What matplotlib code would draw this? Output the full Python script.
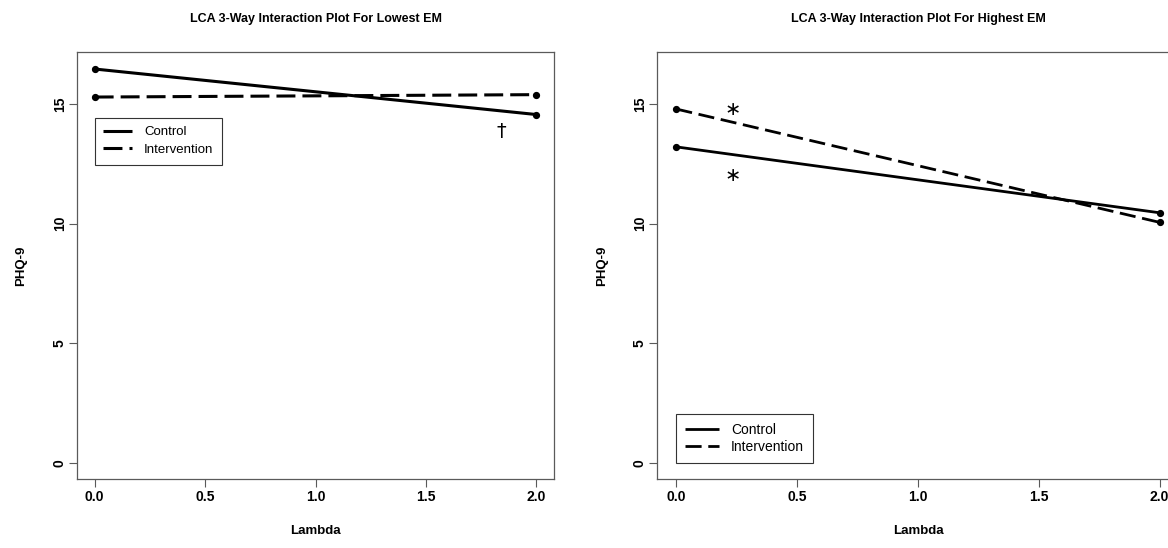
import matplotlib
matplotlib.use("Agg")
import matplotlib.pyplot as plt

plt.rcParams['font.family'] = ['Liberation Sans', 'DejaVu Sans']

# Data
lam = [0.0, 2.0]
low_control = [16.45, 14.55]
low_interv = [15.28, 15.38]
high_control = [13.2, 10.45]
high_interv = [14.78, 10.05]

xticks = [0.0, 0.5, 1.0, 1.5, 2.0]
xtick_labels = ["0.0", "0.5", "1.0", "1.5", "2.0"]
yticks = [0, 5, 10, 15]
ytick_labels = ["0", "5", "10", "15"]

titles = ["LCA 3-Way Interaction Plot For Lowest EM",
          "LCA 3-Way Interaction Plot For Highest EM"]
group_names = ["Control", "Intervention"]

# significance marks: (x, y, symbol)
low_marks = [(1.84, 13.85, "\u2020")]
high_marks = [(0.235, 14.75, "\u2217"), (0.235, 12.0, "\u2217")]

W, H = 1168, 548
AX_COLOR = "#5a5a5a"


def r_range(lo, hi):
    """R style 4% axis expansion"""
    pad = 0.04 * (hi - lo)
    return lo - pad, hi + pad


def style_axes(ax, title, ylabel_x):
    ax.set_xlim(*r_range(0, 2))
    ax.set_ylim(*r_range(0, 16.5))
    ax.set_xticks(xticks)
    ax.set_xticklabels(xtick_labels, fontweight='bold', fontsize=10)
    ax.set_yticks(yticks)
    ax.set_yticklabels(ytick_labels, fontweight='bold', fontsize=10,
                       rotation=90, va='center')
    ax.tick_params(axis='both', direction='out', length=5.8, width=0.8,
                   color=AX_COLOR)
    ax.tick_params(axis='x', pad=2)
    ax.tick_params(axis='y', pad=1.5)
    for sp in ax.spines.values():
        sp.set_color(AX_COLOR)
        sp.set_linewidth(0.9)
    ax.text(0.5, 1.0763, title, transform=ax.transAxes, ha='center',
            va='center', fontsize=9, fontweight='bold')
    ax.set_xlabel("Lambda", fontsize=9.5, fontweight='bold', va='center')
    ax.xaxis.set_label_coords(0.5, -0.1216)
    ax.set_ylabel("PHQ-9", fontsize=9.5, fontweight='bold', va='center')
    ax.yaxis.set_label_coords(ylabel_x, 0.5)


def draw_panel(ax, control, interv, dash, lw, marks):
    ax.plot(lam, control, color='black', lw=lw, solid_capstyle='butt',
            label=group_names[0])
    ax.plot(lam, interv, color='black', lw=lw, linestyle=(0, dash),
            dash_capstyle='butt', label=group_names[1])
    ax.plot(lam, control, 'o', color='black', ms=4.2, ls='none')
    ax.plot(lam, interv, 'o', color='black', ms=4.2, ls='none')
    for x, y, s in marks:
        ax.text(x, y, s, ha='center', va='center', fontsize=14,
                family=['DejaVu Sans'])


def add_legend(ax, loc, anchor, size, hlen, spacing):
    leg = ax.legend(loc=loc, bbox_to_anchor=anchor,
                    bbox_transform=ax.transData, borderaxespad=0,
                    fontsize=size, frameon=True, fancybox=False,
                    handlelength=hlen, handletextpad=0.9,
                    borderpad=0.65, labelspacing=spacing)
    frame = leg.get_frame()
    frame.set_edgecolor("#333333")
    frame.set_linewidth(0.8)
    frame.set_alpha(1)


fig = plt.figure(figsize=(W / 100, H / 100), dpi=100)

ax1 = fig.add_axes([77 / W, (H - 479) / H, 477 / W, 427 / H])
draw_panel(ax1, low_control, low_interv, (6.2, 2.3), 2.2, low_marks)
style_axes(ax1, titles[0], -0.1174)
add_legend(ax1, 'upper left', (0.0, 14.42), 9.5, 2.2, 0.4)

ax2 = fig.add_axes([657 / W, (H - 479) / H, 522 / W, 427 / H])
draw_panel(ax2, high_control, high_interv, (5.8, 2.4), 2.0, high_marks)
style_axes(ax2, titles[1], -0.105)
add_legend(ax2, 'lower left', (0.0, 0.0), 10, 2.4, 0.25)

fig.savefig("out.png", dpi=100)
